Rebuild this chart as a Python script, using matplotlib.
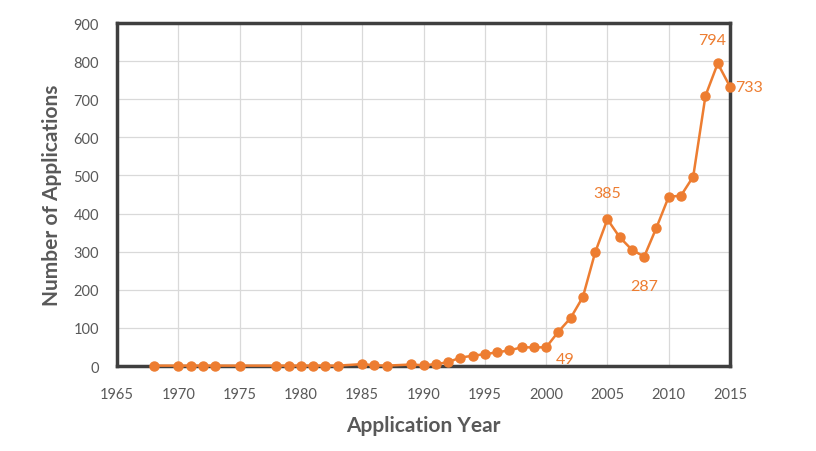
import matplotlib
matplotlib.use("Agg")
import matplotlib.pyplot as plt

years = [1968, 1970, 1971, 1972, 1973, 1975, 1978, 1979, 1980, 1981, 1982, 1983,
         1985, 1986, 1987, 1989, 1990, 1991, 1992, 1993, 1994, 1995, 1996, 1997,
         1998, 1999, 2000, 2001, 2002, 2003, 2004, 2005, 2006, 2007, 2008, 2009,
         2010, 2011, 2012, 2013, 2014, 2015]
apps = [1, 1, 1, 1, 1, 1, 1, 1, 1, 1, 1, 1,
        5, 2, 1, 4, 2, 5, 10, 22, 27, 31, 36, 41,
        49, 49, 49, 90, 126, 181, 298, 385, 338, 305, 287, 363,
        444, 447, 497, 709, 794, 733]

labels = {2001: "49", 2005: "385", 2008: "287", 2014: "794", 2015: "733"}
label_vals = {2001: 49, 2005: 385, 2008: 287, 2014: 794, 2015: 733}

x_ticks = list(range(1965, 2016, 5))
y_ticks = list(range(0, 901, 100))

orange = "#ED7D31"
grey_text = "#595959"
font = ["Lato", "DejaVu Sans"]

fig = plt.figure(figsize=(8.16, 4.52), dpi=100)
ax = fig.add_axes([0.1434, 0.188, 0.7512, 0.7589])

ax.plot(years, apps, color=orange, lw=1.8, marker="o", markersize=6.5, zorder=3,
        clip_on=False)

ax.set_xlim(1965, 2015)
ax.set_ylim(0, 900)
ax.set_xticks(x_ticks)
ax.set_yticks(y_ticks)
ax.grid(True, color="#D9D9D9", lw=0.9)
ax.set_axisbelow(True)
ax.tick_params(length=0, labelsize=10.5, colors=grey_text)
ax.tick_params(axis="x", pad=15)
ax.tick_params(axis="y", pad=13)
for lab in ax.get_xticklabels() + ax.get_yticklabels():
    lab.set_family(font)
for s in ax.spines.values():
    s.set_color("#3F3F3F")
    s.set_linewidth(2.5)

ax.set_xlabel("Application Year", fontsize=15, fontweight="bold", color=grey_text,
              family=font, labelpad=10)
ax.set_ylabel("Number of Applications", fontsize=15, fontweight="bold", color=grey_text,
              family=font, labelpad=8)

offsets = {2001: (5, -3, "center", "top"), 2005: (0, 14, "center", "bottom"),
           2008: (0, -16, "center", "top"), 2014: (-4, 12, "center", "bottom"),
           2015: (4, 0, "left", "center")}
for yr, txt in labels.items():
    dx, dy, ha, va = offsets[yr]
    ax.annotate(txt, (yr, label_vals[yr]), xytext=(dx, dy), textcoords="offset points",
                ha=ha, va=va, color=orange, fontsize=11.5, family=font, zorder=4,
                annotation_clip=False)

fig.savefig("out.png", dpi=100)
